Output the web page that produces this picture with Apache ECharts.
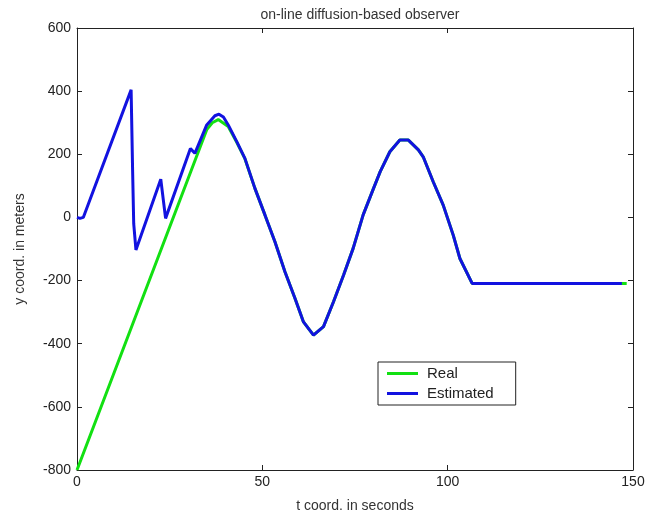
<!DOCTYPE html>
<html>
<head>
<meta charset="utf-8">
<script src="https://cdn.jsdelivr.net/npm/echarts@6/dist/echarts.min.js"></script>
<style>
  html, body { margin: 0; padding: 0; background: #fff; }
  #chart { width: 665px; height: 521px; }
</style>
</head>
<body>
<div id="chart"></div>
<script>
// Real trajectory (green)
var realT = [0, 35, 36.5, 38.1, 40.8, 43.1, 45.3, 48.0, 50.7, 53.4, 56.1, 58.8, 61.1, 63.8, 66.5, 69.2, 71.9, 74.5, 77.2, 80.0, 81.8, 84.4, 87.1, 89.4, 92.1, 93.4, 96.1, 98.8, 101.5, 103.3, 106.6, 148.3];
var realY = [-800, 278, 300, 310, 288, 238, 186, 92, 8, -77, -172, -256, -331, -373, -346, -267, -183, -98, 8, 92, 145, 208, 245, 245, 214, 192, 113, 39, -56, -130, -209, -209];

// Estimated trajectory (blue)
var estT = [0, 0.8, 1.7, 14.6, 15.0, 15.3, 15.9, 22.6, 23.9, 30.6, 31.8, 35, 37.2, 38.3, 39.5, 40.8, 43.1, 45.3, 48.0, 50.7, 53.4, 56.1, 58.8, 61.1, 63.8, 66.5, 69.2, 71.9, 74.5, 77.2, 80.0, 81.8, 84.4, 87.1, 89.4, 92.1, 93.4, 96.1, 98.8, 101.5, 103.3, 106.6, 147];
var estY = [0, -3, 0, 404, 150, -20, -103, 121, -3, 218, 203, 293, 322, 327, 318, 293, 240, 187, 92, 8, -77, -172, -256, -331, -373, -346, -267, -183, -98, 8, 92, 145, 208, 245, 245, 214, 192, 113, 39, -56, -130, -209, -209];

var xTicks = [0, 50, 100, 150];
var yTicks = [-800, -600, -400, -200, 0, 200, 400, 600];

function pairs(ts, ys) {
  return ts.map(function (t, i) { return [t, ys[i]]; });
}

var chart = echarts.init(document.getElementById('chart'));

var font = 'Liberation Sans, Arial, sans-serif';
var axisBase = {
  axisLine: { show: true, onZero: false, lineStyle: { color: '#222', width: 1 } },
  axisTick: { show: true, inside: true, length: 5, lineStyle: { color: '#222' } },
  splitLine: { show: false }
};

var options = {
  backgroundColor: '#fff',
  animation: false,
  title: {
    text: 'on-line diffusion-based observer',
    left: 355,
    textAlign: 'center',
    top: 3,
    textStyle: { fontFamily: font, fontSize: 14, fontWeight: 'normal', color: '#333' }
  },
  legend: {
    orient: 'vertical',
    left: 378,
    top: 362,
    padding: [4, 22, 4, 9],
    itemGap: 5,
    itemWidth: 31,
    itemHeight: 3,
    icon: 'rect',
    borderColor: '#222',
    borderWidth: 1,
    textStyle: { fontFamily: font, fontSize: 15, color: '#222', padding: [0, 0, 0, 4] },
    data: ['Real', 'Estimated']
  },
  grid: { left: 77, right: 32, top: 28, bottom: 51, containLabel: false },
  xAxis: [
    Object.assign({}, axisBase, {
      type: 'value', min: 0, max: 150, interval: 50,
      position: 'bottom',
      name: 't coord. in seconds',
      nameLocation: 'middle',
      nameGap: 29,
      nameTextStyle: { fontFamily: font, fontSize: 14, color: '#333' },
      axisLabel: { fontFamily: font, fontSize: 14, color: '#222', margin: 5,
        formatter: function (v) { return xTicks.indexOf(v) >= 0 ? String(v) : ''; } }
    }),
    Object.assign({}, axisBase, {
      type: 'value', min: 0, max: 150, interval: 50,
      position: 'top',
      axisLabel: { show: false }
    })
  ],
  yAxis: [
    Object.assign({}, axisBase, {
      type: 'value', min: -800, max: 600, interval: 200,
      position: 'left',
      name: 'y coord. in meters',
      nameLocation: 'middle',
      nameGap: 50,
      nameTextStyle: { fontFamily: font, fontSize: 14, color: '#333' },
      axisLabel: { fontFamily: font, fontSize: 14, color: '#222', margin: 6,
        formatter: function (v) { return yTicks.indexOf(v) >= 0 ? String(v) : ''; } }
    }),
    Object.assign({}, axisBase, {
      type: 'value', min: -800, max: 600, interval: 200,
      position: 'right',
      axisLabel: { show: false }
    })
  ],
  series: [
    {
      name: 'Real',
      type: 'line',
      xAxisIndex: 0,
      yAxisIndex: 0,
      data: pairs(realT, realY),
      showSymbol: false,
      symbol: 'none',
      lineStyle: { color: '#12e012', width: 3 },
      itemStyle: { color: '#12e012' },
      z: 2
    },
    {
      name: 'Estimated',
      type: 'line',
      xAxisIndex: 0,
      yAxisIndex: 0,
      data: pairs(estT, estY),
      showSymbol: false,
      symbol: 'none',
      lineStyle: { color: '#1212e0', width: 3 },
      itemStyle: { color: '#1212e0' },
      z: 3
    }
  ]
};
chart.setOption(options);
</script>
</body>
</html>
